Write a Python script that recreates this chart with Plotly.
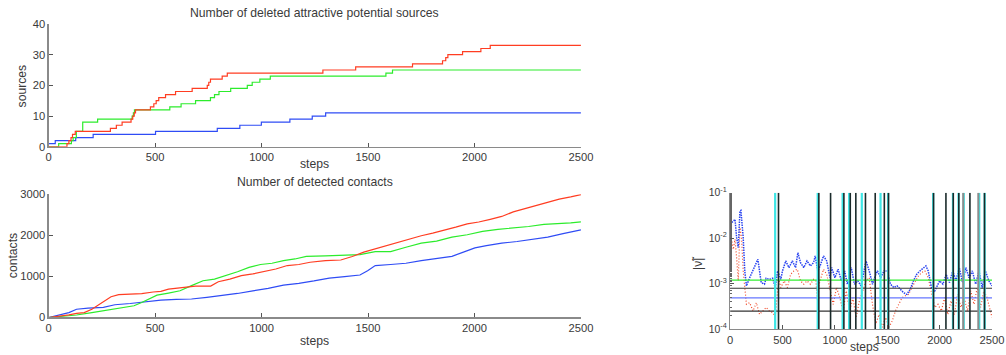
import plotly.graph_objects as go

# ---------------- data ----------------
steps_ticks = [0, 500, 1000, 1500, 2000, 2500]

# Top: deleted attractive potential sources (step functions)
red_src_x = [0, 86, 95, 105, 112, 125, 290, 318, 345, 387, 395, 402, 408, 478, 494, 505, 517, 549, 596,
             674, 745, 752, 760, 815, 839, 1288, 1442, 1709, 1850, 1865, 1875, 1944, 2030, 2074, 2500]
red_src_y = [0, 1, 2, 3, 4, 5, 6, 7, 8, 9, 10, 11, 12, 13, 14, 15, 16, 17, 18,
             19, 20, 21, 22, 23, 24, 25, 26, 27, 28, 29, 30, 31, 32, 33, 33]
green_src_x = [0, 47, 107, 115, 130, 160, 230, 392, 398, 403, 569, 622, 690, 760, 779, 800, 855, 933,
               956, 992, 1041, 1584, 1615, 2500]
green_src_y = [0, 1, 2, 3, 5, 8, 9, 10, 11, 12, 13, 14, 15, 16, 17, 18, 19, 20,
               21, 22, 23, 24, 25, 25]
blue_src_x = [0, 31, 127, 209, 502, 792, 898, 999, 1133, 1238, 1301, 2500]
blue_src_y = [1, 2, 3, 4, 5, 6, 7, 8, 9, 10, 11, 11]

# Bottom: detected contacts
red_con_x = [0, 41, 95, 131, 167, 203, 239, 275, 293, 329, 383, 437, 491, 527, 563, 617, 653, 689, 761,
             797, 851, 905, 959, 1013, 1067, 1121, 1175, 1228, 1300, 1372, 1426, 1480, 1534, 1588, 1642,
             1696, 1750, 1804, 1858, 1912, 1966, 2020, 2074, 2128, 2182, 2236, 2290, 2344, 2398, 2452, 2500]
red_con_y = [0, 25, 65, 100, 120, 200, 330, 450, 505, 555, 560, 580, 620, 635, 690, 715, 735, 765, 765,
             870, 935, 1020, 1060, 1115, 1180, 1265, 1290, 1345, 1385, 1400, 1485, 1590, 1670, 1745, 1835,
             1915, 1990, 2055, 2120, 2200, 2280, 2325, 2390, 2460, 2570, 2650, 2730, 2810, 2880, 2935, 2990]
green_con_x = [0, 59, 131, 203, 275, 347, 401, 437, 473, 509, 563, 617, 671, 725, 779, 833, 887, 941,
               995, 1049, 1103, 1157, 1210, 1300, 1390, 1462, 1534, 1606, 1678, 1750, 1822, 1894, 1966,
               2038, 2110, 2182, 2254, 2326, 2398, 2452, 2500]
green_con_y = [0, 25, 60, 120, 180, 245, 285, 365, 465, 545, 595, 650, 775, 895, 935, 1020, 1115, 1220,
               1290, 1320, 1385, 1425, 1490, 1500, 1515, 1530, 1605, 1605, 1710, 1810, 1860, 1955, 2015,
               2095, 2145, 2175, 2215, 2265, 2280, 2305, 2330]
blue_con_x = [0, 41, 95, 131, 185, 257, 311, 383, 455, 527, 599, 671, 743, 815, 887, 959, 1031, 1103,
              1175, 1246, 1318, 1390, 1462, 1498, 1534, 1606, 1678, 1750, 1822, 1894, 1948, 2002, 2056,
              2128, 2200, 2272, 2344, 2416, 2500]
blue_con_y = [0, 55, 120, 200, 230, 245, 310, 340, 390, 425, 440, 450, 490, 530, 585, 650, 710, 790,
              830, 890, 960, 995, 1035, 1140, 1265, 1290, 1320, 1385, 1445, 1490, 1590, 1695, 1750,
              1810, 1850, 1910, 1955, 2040, 2135]

# Right: |nu~| over steps (log scale)
nu_blue_x = [0, 16, 31, 47, 62, 78, 94, 103, 125, 140, 156, 187, 234, 265, 297, 328, 344, 375, 406, 431,
             453, 484, 500, 531, 562, 594, 625, 647, 672, 703, 734, 766, 797, 812, 837, 859, 891, 922,
             953, 969, 1000, 1031, 1062, 1094, 1119, 1156, 1187, 1219, 1250, 1297, 1328, 1359, 1391,
             1406, 1437, 1469, 1500, 1531, 1562, 1594, 1625, 1656, 1687, 1719, 1750, 1781, 1812, 1844,
             1869, 1891, 1922, 1953, 2000, 2031, 2062, 2094, 2125, 2156, 2187, 2219, 2250, 2281, 2312,
             2344, 2375, 2406, 2437, 2469, 2500]
nu_blue_y = [0.0201, 0.0215, 0.0238, 0.0259, 0.0103, 0.0062, 0.0396, 0.0409, 0.0103, 0.0019, 0.00089,
             0.00135, 0.00225, 0.00343, 0.00105, 0.00097, 0.00131, 0.00124, 0.00131, 0.00082,
             0.0019, 0.00124, 0.0019, 0.00315, 0.00225, 0.00315, 0.00225, 0.0048, 0.0029, 0.00225,
             0.00315, 0.00245, 0.0029, 0.00406, 0.0019, 0.00245, 0.00406, 0.00315,
             0.00135, 0.00225, 0.00135, 0.00207, 0.00115, 0.0019, 0.00097, 0.00225, 0.00097, 0.00115,
             0.00089, 0.00315, 0.0019, 0.00097, 0.0016,
             0.0019, 0.00135, 0.0019, 0.0019, 0.00097, 0.00082, 0.00089, 0.00075, 0.00063, 0.00058,
             0.00075, 0.00115, 0.0016, 0.0019, 0.00225,
             0.00245, 0.0019, 0.00082, 0.00069, 0.00115, 0.00097, 0.0016, 0.00105, 0.0019, 0.00115,
             0.00225, 0.00105, 0.00225, 0.00135, 0.0019,
             0.00097, 0.0019, 0.00082, 0.0019, 0.00115, 0.00089]
nu_red_x = [0, 16, 31, 47, 62, 78, 94, 109, 125, 140, 156, 187, 219, 250, 281, 312, 344, 375, 406, 431,
            453, 469, 484, 516, 547, 578, 609, 641, 672, 703, 734, 766, 797, 819, 837, 850, 875, 891,
            922, 953, 984, 1016, 1047, 1078, 1109, 1141, 1172, 1203, 1234, 1266, 1297, 1328, 1359,
            1391, 1422, 1453, 1484, 1516, 1547, 1578, 1609, 1641, 1672, 1703, 1734, 1766, 1797, 1828,
            1859, 1891, 1922, 1953, 1984, 2016, 2047, 2078, 2109, 2141, 2172, 2203, 2234, 2266, 2297,
            2328, 2359, 2391, 2422, 2453, 2484, 2500]
nu_red_y = [0.00673, 0.00867, 0.00568, 0.00942, 0.00373, 0.00115, 0.0170, 0.0103, 0.0019, 0.00069,
            0.00035, 0.00038, 0.00025, 0.00038, 0.00021, 0.00025, 0.0003, 0.00025, 0.00023, 0.00019,
            0.00069, 0.00115, 0.00082, 0.00115, 0.00082, 0.0016, 0.0019, 0.00207, 0.00115, 0.00097,
            0.00115, 0.00097, 0.00124, 0.00115, 0.00035, 0.00097, 0.0016, 0.00207,
            0.0016, 0.00069, 0.00035, 0.00082, 0.00049, 0.00025, 0.00069, 0.00025, 0.00049, 0.00018,
            0.00042, 0.00069, 0.00115, 0.00135, 0.00035,
            0.00013, 0.00021, 0.00011, 0.00018, 0.00011, 0.00015, 0.00025, 0.00035, 0.00049, 0.00054,
            0.00058, 0.00082, 0.00115, 0.00147, 0.00175,
            0.0019, 0.00135, 0.00058, 0.0003, 0.00035, 0.00025, 0.00049, 0.00021, 0.00042, 0.00021,
            0.00058, 0.0003, 0.00049, 0.00025, 0.00069,
            0.00035, 0.00082, 0.0003, 0.00069, 0.00049, 0.00025, 0.00018]

# event lines (steps) and threshold levels
cyan_events = [430, 836, 1074, 1136, 1257, 1436, 1508, 1938, 2127, 2180, 2230, 2378, 2430]
black_events = [462, 847, 959, 1086, 1147, 1200, 1292, 1385, 1472, 1512, 1942, 2060, 2130, 2183,
                2289, 2428]
gray_events = [2225, 2369]
green_level = 1.19e-3
black_levels = [7.9e-4, 2.47e-4]
blue_level = 4.85e-4

log_tickvals = [1e-4, 1e-3, 1e-2, 1e-1]
log_ticktext = ["10<sup>-4</sup>", "10<sup>-3</sup>", "10<sup>-2</sup>", "10<sup>-1</sup>"]

# ---------------- style ----------------
RED = "#ff3d22"
GREEN = "#2cec2c"
BLUE = "#2f4cf5"
FONT = "Liberation Sans, Arial, sans-serif"
TXT = "#3a3a3a"
AX = "#8a8a8a"

fig = go.Figure()

# top
for xs, ys, c in [(blue_src_x, blue_src_y, BLUE), (green_src_x, green_src_y, GREEN), (red_src_x, red_src_y, RED)]:
    fig.add_trace(go.Scatter(x=xs, y=ys, mode="lines", line=dict(color=c, width=1.2, shape="hv"),
                             xaxis="x", yaxis="y", showlegend=False, hoverinfo="skip"))
# bottom
for xs, ys, c in [(blue_con_x, blue_con_y, BLUE), (green_con_x, green_con_y, GREEN), (red_con_x, red_con_y, RED)]:
    fig.add_trace(go.Scatter(x=xs, y=ys, mode="lines", line=dict(color=c, width=1.2),
                             xaxis="x2", yaxis="y2", showlegend=False, hoverinfo="skip"))


def vlines(xs):
    vx, vy = [], []
    for v in xs:
        vx += [v, v, None]
        vy += [1e-4, 1e-1, None]
    return vx, vy


def hline(v):
    return [0, 2500], [v, v]


# right: series
fig.add_trace(go.Scatter(x=nu_red_x, y=nu_red_y, mode="lines",
                         line=dict(color="#f04a2a", width=1.2, dash="1px,2px"),
                         xaxis="x3", yaxis="y3", showlegend=False, hoverinfo="skip"))
fig.add_trace(go.Scatter(x=nu_blue_x, y=nu_blue_y, mode="lines",
                         line=dict(color="#2a44f0", width=1.5, dash="1.5px,1px"),
                         xaxis="x3", yaxis="y3", showlegend=False, hoverinfo="skip"))
# threshold lines
hx, hy = hline(green_level)
fig.add_trace(go.Scatter(x=hx, y=hy, mode="lines", line=dict(color="#33ee33", width=1.2),
                         xaxis="x3", yaxis="y3", showlegend=False, hoverinfo="skip"))
hx, hy = hline(blue_level)
fig.add_trace(go.Scatter(x=hx, y=hy, mode="lines", line=dict(color="#6677ff", width=1.2),
                         xaxis="x3", yaxis="y3", showlegend=False, hoverinfo="skip"))
for lv in black_levels:
    hx, hy = hline(lv)
    fig.add_trace(go.Scatter(x=hx, y=hy, mode="lines", line=dict(color="#333333", width=1.2),
                             xaxis="x3", yaxis="y3", showlegend=False, hoverinfo="skip"))
# event lines
vx, vy = vlines(cyan_events)
fig.add_trace(go.Scatter(x=vx, y=vy, mode="lines", line=dict(color="#3ee6e6", width=2.2),
                         xaxis="x3", yaxis="y3", showlegend=False, hoverinfo="skip"))
vx, vy = vlines(gray_events)
fig.add_trace(go.Scatter(x=vx, y=vy, mode="lines", line=dict(color="#8c8c8c", width=2),
                         xaxis="x3", yaxis="y3", showlegend=False, hoverinfo="skip"))
vx, vy = vlines(black_events)
fig.add_trace(go.Scatter(x=vx, y=vy, mode="lines", line=dict(color="#1a2a2a", width=1.6),
                         xaxis="x3", yaxis="y3", showlegend=False, hoverinfo="skip"))

tickfont = dict(family=FONT, size=11.2, color=TXT)
common_x = dict(range=[0, 2500], tickvals=steps_ticks, ticks="inside", ticklen=4, tickcolor="#555",
                showline=True, linecolor=AX, linewidth=1.2, showgrid=False, zeroline=False,
                tickfont=tickfont, fixedrange=True)
common_y = dict(ticks="inside", ticklen=4, tickcolor="#555", showline=True, linecolor=AX, linewidth=1.2,
                showgrid=False, zeroline=False, tickfont=tickfont, fixedrange=True)

W, H = 1006, 355
# layout positions are given in reference-picture pixels and mapped to page pixels
SX, OX = 0.984, 2.7
SY, CY = 0.962, 177.5


def px(x):
    return min(max((x - OX) / SX, 0), W - 2) / W


def py(y):
    return 1 - min(max(CY + (y - CY) / SY, 0), H) / H


fig.update_layout(
    autosize=True, margin=dict(l=0, r=0, t=0, b=0),
    paper_bgcolor="white", plot_bgcolor="white",
    font=dict(family=FONT, color=TXT),
    xaxis=dict(domain=[px(48.3), px(580)], anchor="y", **common_x),
    yaxis=dict(domain=[py(145.7), py(22.7)], anchor="x", range=[0, 40], tickvals=[0, 10, 20, 30, 40], **common_y),
    xaxis2=dict(domain=[px(48.3), px(580)], anchor="y2", **common_x),
    yaxis2=dict(domain=[py(316.7), py(193.3)], anchor="x2", range=[0, 3000],
                tickvals=[0, 1000, 2000, 3000], **common_y),
    xaxis3=dict(domain=[px(729), 1004 / W], anchor="y3", **common_x),
    yaxis3=dict(domain=[py(328.3), py(191.7)], anchor="x3", type="log", range=[-4, -1],
                tickvals=log_tickvals, ticktext=log_ticktext,
                minor=dict(ticks="inside", ticklen=2, tickcolor="#666", showgrid=False),
                **{k: v for k, v in common_y.items() if k != "tickfont"},
                tickfont=dict(family=FONT, size=10.4, color=TXT)),
)

ann = [
    ("Number of deleted attractive potential sources", 314, 12, 0, 12.2),
    ("sources", 22, 85, -90, 12.2),
    ("steps", 314, 163, 0, 12.2),
    ("Number of detected contacts", 314, 181, 0, 12.2),
    ("contacts", 13, 255, -90, 12.2),
    ("steps", 863, 346, 0, 12),
    ("steps", 314, 340, 0, 12.2),
    ("|ν̃|", 697, 262, -90, 12.2),
]
for text, x, y, ang, size in ann:
    fig.add_annotation(text=text, x=px(x), y=py(y), xref="paper", yref="paper", showarrow=False,
                       textangle=ang, xanchor="center", yanchor="middle",
                       font=dict(family=FONT, size=size, color=TXT))

# the graph div is pinned to the page's top-left corner at exactly the window size
fig.write_html("out.html", config={"displayModeBar": False, "staticPlot": True},
               default_width="%dpx" % W,
               default_height="%dpx;position:fixed;top:0;left:0" % H)
